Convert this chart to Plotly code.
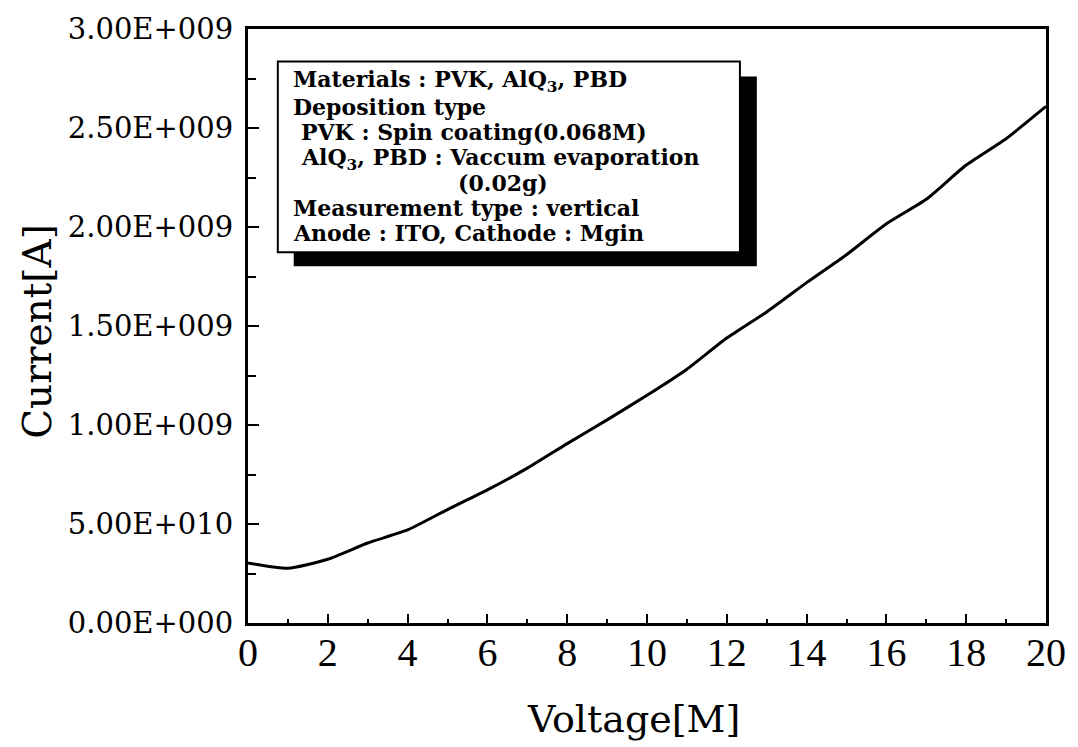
import plotly.graph_objects as go

voltage = [0, 1, 2, 3, 4, 5, 6, 7, 8, 9, 10, 11, 12, 13, 14, 15, 16, 17, 18, 19, 20]
current = [0.303e9, 0.276e9, 0.322e9, 0.404e9, 0.470e9, 0.573e9, 0.672e9, 0.782e9, 0.906e9,
           1.026e9, 1.150e9, 1.282e9, 1.439e9, 1.571e9, 1.719e9, 1.860e9, 2.016e9, 2.140e9,
           2.313e9, 2.446e9, 2.609e9]

x_tickvals = [0, 2, 4, 6, 8, 10, 12, 14, 16, 18, 20]
y_tickvals = [0, 0.5e9, 1.0e9, 1.5e9, 2.0e9, 2.5e9, 3.0e9]
y_ticktext = ["0.00E+000", "5.00E+010", "1.00E+009", "1.50E+009", "2.00E+009", "2.50E+009", "3.00E+009"]

info_lines = [
    "Materials : PVK, AlQ<sub>3</sub>, PBD",
    "Deposition type",
    "PVK : Spin coating(0.068M)",
    "AlQ<sub>3</sub>, PBD : Vaccum evaporation",
    "(0.02g)",
    "Measurement type : vertical",
    "Anode : ITO, Cathode : Mgin",
]

W, H = 1078, 747
L, R, T, B = 248, 1051, 22, 623


def xp(px):
    return (px - L) / (R - L)


def yp(py):
    return (B - py) / (B - T)


fig = go.Figure()
fig.add_trace(go.Scatter(x=voltage, y=current, mode="lines",
                         line=dict(color="black", width=3, shape="spline", smoothing=0.5),
                         showlegend=False))

serif = "DejaVu Serif"

fig.update_layout(
    width=W, height=H,
    margin=dict(l=L, r=W - R, t=T, b=H - B),
    paper_bgcolor="white", plot_bgcolor="white",
    xaxis=dict(range=[0, 20], tickvals=x_tickvals, ticks="inside", ticklen=9, tickwidth=2,
               tickcolor="black", showline=True, linecolor="black", linewidth=3, mirror=True,
               showgrid=False, zeroline=False,
               tickfont=dict(family="Liberation Serif", size=40, color="black"),
               ticklabelstandoff=-8,
               minor=dict(dtick=1, ticks="inside", ticklen=4, tickwidth=2, tickcolor="black")),
    yaxis=dict(range=[0, 3e9], tickvals=y_tickvals, ticktext=y_ticktext, ticks="inside",
               ticklen=11, tickwidth=2, tickcolor="black", showline=True, linecolor="black",
               linewidth=3, mirror=True, showgrid=False, zeroline=False,
               tickfont=dict(family=serif, size=29, color="black"),
               ticklabelstandoff=6,
               minor=dict(dtick=0.25e9, tick0=0, ticks="inside", ticklen=8, tickwidth=2,
                          tickcolor="black")),
)

# info box shadow and box
fig.add_shape(type="rect", xref="paper", yref="paper",
              x0=xp(294), x1=xp(760), y0=yp(262), y1=yp(70),
              fillcolor="black", line=dict(color="black", width=0), layer="above")
fig.add_shape(type="rect", xref="paper", yref="paper",
              x0=xp(278), x1=xp(743), y0=yp(248), y1=yp(55),
              fillcolor="white", line=dict(color="black", width=2), layer="above")

line_y = [75, 101, 126, 154, 178, 203, 228]
line_x = [291, 291, 299, 299, 457, 291, 291]
for txt, ly, lx in zip(info_lines, line_y, line_x):
    fig.add_annotation(xref="paper", yref="paper", x=xp(lx), y=yp(ly), text=txt,
                       showarrow=False, xanchor="left", yanchor="middle",
                       font=dict(family=serif, size=22, color="black", weight="bold"))

fig.add_annotation(xref="paper", yref="paper", x=xp(636), y=yp(720), text="Voltage[M]",
                   showarrow=False, xanchor="center", yanchor="middle",
                   font=dict(family=serif, size=38, color="black"))
fig.add_annotation(xref="paper", yref="paper", x=xp(36), y=yp(328), text="Current[A]",
                   textangle=-90, showarrow=False, xanchor="center", yanchor="middle",
                   font=dict(family=serif, size=39, color="black"))

fig.write_html("out.html")
